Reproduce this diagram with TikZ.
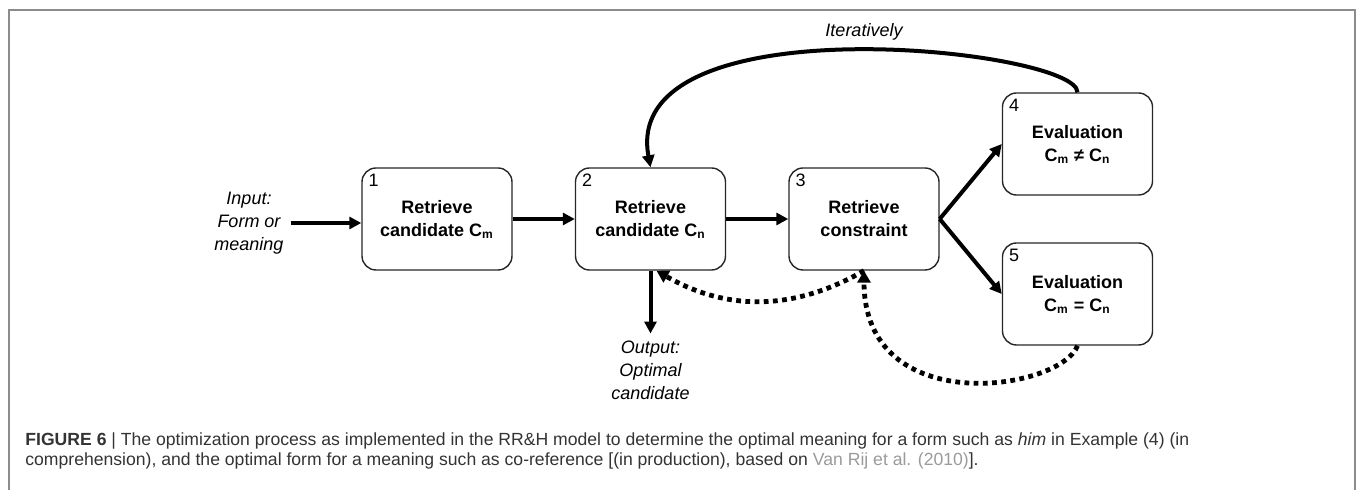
\documentclass[tikz,border=0pt]{standalone}
\usepackage{fontspec}
\setmainfont{Liberation Sans}
\usetikzlibrary{arrows.meta, positioning}
\definecolor{framegray}{HTML}{8C8C8C}
\definecolor{captext}{HTML}{333333}
\definecolor{linkgray}{HTML}{9A9A9A}
\tikzstyle{box} = [rectangle, draw=black!85, line width=0.7pt, rounded corners=7pt, minimum width=75pt, minimum height=51pt, align=center, font=\fontsize{9}{11.5}\selectfont\bfseries]
\tikzstyle{tag} = [anchor=north west, inner xsep=3.5pt, inner ysep=3.3pt, font=\fontsize{9}{11}\selectfont]
\tikzstyle{note} = [align=center, font=\fontsize{9}{11.5}\selectfont\itshape]
\tikzstyle{caption} = [anchor=base west, inner sep=0pt, text=captext, font=\fontsize{8.8}{10}\selectfont]
\tikzstyle{arrow} = [line width=2pt, ->, >={Triangle[length=6pt, width=6pt]}]
\tikzstyle{feedback} = [line width=2.4pt, dash pattern=on 2.4pt off 2.2pt, ->, >={Triangle[length=6pt, width=6.5pt]}]
\begin{document}
\begin{tikzpicture}[node distance=106.75pt]
    \useasboundingbox (0,0) rectangle (678.5pt,-245pt);

    % Frame
    \draw [framegray, line width=0.7pt] (4.5pt,-245pt) -- (4.5pt,-5pt) -- (677.5pt,-5pt) -- (677.5pt,-245pt);

    % Steps
    \node (b1) [box] at (218.5pt,-109.5pt) {Retrieve\\candidate C\textsubscript{m}};
    \node (b2) [box, right of=b1] {Retrieve\\candidate C\textsubscript{n}};
    \node (b3) [box, right of=b2] {Retrieve\\constraint};
    \node (b4) [box, right of=b3, yshift=37.5pt] {Evaluation\\C\textsubscript{m} ≠ C\textsubscript{n}};
    \node (b5) [box, right of=b3, yshift=-37.5pt] {Evaluation\\C\textsubscript{m} = C\textsubscript{n}};

    % Step numbers
    \node (t1) [tag] at (b1.north west) {1};
    \node (t2) [tag] at (b2.north west) {2};
    \node (t3) [tag] at (b3.north west) {3};
    \node (t4) [tag] at (b4.north west) {4};
    \node (t5) [tag] at (b5.north west) {5};

    % Labels
    \node (input) [note, left of=b1, xshift=12.75pt, yshift=-2pt] {Input:\\Form or\\meaning};
    \node (output) [note, below of=b2, yshift=31.25pt] {Output:\\Optimal\\candidate};
    \node (iter) [note, above of=b3, yshift=-13.25pt] {Iteratively};

    % Caption
    \node (cap1) [caption] at (12.5pt,-222.75pt) {\textbf{FIGURE 6} | The optimization process as implemented in the RR\&H model to determine the optimal meaning for a form such as \textit{him} in Example (4) (in};
    \node (cap2) [caption] at (12.5pt,-232.75pt) {comprehension), and the optimal form for a meaning such as co-reference [(in production), based on \textcolor{linkgray}{Van Rij et al. (2010)}].};

    % ==== Arrows
    \draw [arrow] (input) -- (input -| b1.west);
    \draw [arrow] (b1) -- (b2);
    \draw [arrow] (b2) -- (b3);
    \draw [arrow] (b3.east) -- (b4.west);
    \draw [arrow] (b3.east) -- (b5.west);
    \draw [arrow] (b2) -- (output);
    \draw [arrow] (b4.north) .. controls +(0,21.5pt) and +(-15.5pt,84pt) .. (b2.north);

    % Feedback
    \draw [feedback] (b5.south) .. controls +(-8.5pt,-22.5pt) and +(0,-75pt) .. (b3.south);
    \draw [feedback] (b3.south) to[out=-150, in=-30] ([xshift=3pt]b2.south);

\end{tikzpicture}
\end{document}
